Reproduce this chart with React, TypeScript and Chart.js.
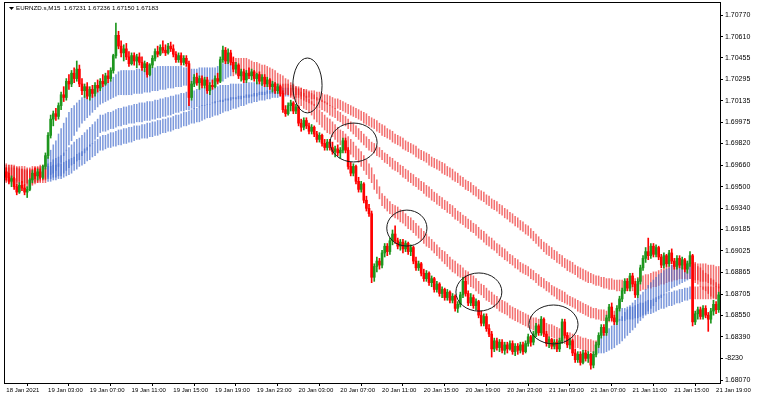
import { useEffect, useRef } from 'react';
import { Chart, registerables } from 'chart.js';

Chart.register(...registerables);

// ---- chart data ----------------------------------------------------------

const symbolCaption = 'EURNZD.s,M15  1.67231 1.67236 1.67150 1.67183';

const timeTickBars = [0, 16, 32, 48, 64, 80, 96, 112, 128, 144, 160, 176, 192, 208, 224, 240, 256, 272];
const timeTickLabels = [
  '18 Jan 2021', '19 Jan 03:00', '19 Jan 07:00', '19 Jan 11:00', '19 Jan 15:00', '19 Jan 19:00',
  '19 Jan 23:00', '20 Jan 03:00', '20 Jan 07:00', '20 Jan 11:00', '20 Jan 15:00', '20 Jan 19:00',
  '20 Jan 23:00', '21 Jan 03:00', '21 Jan 07:00', '21 Jan 11:00', '21 Jan 15:00', '21 Jan 19:00',
];

const priceTicks = [
  1.7077, 1.7061, 1.70455, 1.70295, 1.70135, 1.69975, 1.6982, 1.6966, 1.695,
  1.6934, 1.69185, 1.69025, 1.68865, 1.68705, 1.6855, 1.6839, 1.6823, 1.6807,
];
const priceTickLabels = [
  '1.70770', '1.70610', '1.70455', '1.70295', '1.70135', '1.69975', '1.69820', '1.69660', '1.69500',
  '1.69340', '1.69185', '1.69025', '1.68865', '1.68705', '1.68550', '1.68390', '-8230', '1.68070',
];
const priceMin = 1.68048;
const priceMax = 1.70859;

const opens = [
  1.6961,1.6957,1.6954,1.6956,1.6950,1.6946,1.6951,1.6949,1.6946,1.6948,1.6955,1.6960,1.6958,1.6961,1.6957,1.6965,
  1.6973,1.6988,1.7000,1.7004,1.7002,1.7010,1.7018,1.7016,1.7028,1.7026,1.7034,1.7030,1.7037,1.7026,1.7021,1.7024,
  1.7017,1.7022,1.7019,1.7025,1.7023,1.7028,1.7026,1.7032,1.7030,1.7036,1.7047,1.7062,1.7054,1.7049,1.7052,1.7046,
  1.7041,1.7047,1.7043,1.7046,1.7042,1.7038,1.7041,1.7033,1.7040,1.7045,1.7050,1.7048,1.7053,1.7051,1.7049,1.7054,
  1.7052,1.7048,1.7044,1.7047,1.7042,1.7045,1.7041,1.7016,1.7026,1.7031,1.7027,1.7030,1.7025,1.7029,1.7021,1.7025,
  1.7024,1.7030,1.7028,1.7044,1.7051,1.7043,1.7049,1.7042,1.7037,1.7040,1.7032,1.7035,1.7029,1.7034,1.7032,1.7035,
  1.7030,1.7033,1.7028,1.7031,1.7026,1.7029,1.7024,1.7026,1.7021,1.7024,1.7019,1.7007,1.7004,1.7010,1.7012,1.7006,
  1.7009,1.6997,1.6994,1.6999,1.6995,1.6991,1.6994,1.6989,1.6985,1.6988,1.6982,1.6979,1.6983,1.6979,1.6976,1.6978,
  1.6975,1.6977,1.6984,1.6977,1.6965,1.6960,1.6965,1.6954,1.6948,1.6952,1.6940,1.6934,1.6930,1.6883,1.6891,1.6895,
  1.6892,1.6901,1.6906,1.6902,1.6910,1.6915,1.6910,1.6906,1.6909,1.6904,1.6908,1.6902,1.6905,1.6895,1.6890,1.6893,
  1.6886,1.6882,1.6886,1.6879,1.6882,1.6874,1.6878,1.6871,1.6874,1.6868,1.6872,1.6866,1.6869,1.6860,1.6863,1.6870,
  1.6880,1.6871,1.6864,1.6868,1.6862,1.6865,1.6855,1.6849,1.6854,1.6845,1.6841,1.6830,1.6836,1.6831,1.6835,1.6829,
  1.6833,1.6830,1.6834,1.6828,1.6832,1.6829,1.6833,1.6828,1.6834,1.6839,1.6835,1.6841,1.6847,1.6842,1.6852,1.6841,
  1.6834,1.6837,1.6832,1.6835,1.6830,1.6836,1.6850,1.6840,1.6833,1.6836,1.6827,1.6822,1.6826,1.6820,1.6827,1.6823,
  1.6826,1.6818,1.6826,1.6833,1.6840,1.6846,1.6842,1.6853,1.6861,1.6853,1.6850,1.6860,1.6867,1.6873,1.6880,1.6875,
  1.6884,1.6878,1.6870,1.6880,1.6890,1.6897,1.6902,1.6899,1.6906,1.6900,1.6905,1.6898,1.6892,1.6899,1.6893,1.6901,
  1.6895,1.6891,1.6897,1.6892,1.6896,1.6889,1.6893,1.6899,1.6850,1.6856,1.6859,1.6854,1.6860,1.6855,1.6852,1.6858,
  1.6863,1.6859,
];

const highs = [
  1.6964,1.6960,1.6958,1.6957,1.6952,1.6953,1.6954,1.6952,1.6950,1.6956,1.6962,1.6964,1.6963,1.6963,1.6966,1.6975,
  1.6990,1.7003,1.7006,1.7008,1.7012,1.7020,1.7024,1.7030,1.7033,1.7036,1.7038,1.7043,1.7040,1.7030,1.7026,1.7027,
  1.7024,1.7025,1.7027,1.7029,1.7030,1.7033,1.7034,1.7036,1.7038,1.7048,1.7071,1.7065,1.7058,1.7055,1.7056,1.7050,
  1.7049,1.7049,1.7048,1.7049,1.7046,1.7043,1.7042,1.7041,1.7047,1.7052,1.7054,1.7055,1.7058,1.7055,1.7056,1.7057,
  1.7055,1.7050,1.7049,1.7049,1.7047,1.7047,1.7043,1.7028,1.7033,1.7034,1.7032,1.7032,1.7031,1.7031,1.7027,1.7029,
  1.7032,1.7034,1.7046,1.7054,1.7053,1.7052,1.7051,1.7046,1.7042,1.7041,1.7037,1.7037,1.7036,1.7038,1.7037,1.7036,
  1.7034,1.7035,1.7033,1.7033,1.7031,1.7030,1.7028,1.7027,1.7026,1.7025,1.7021,1.7010,1.7012,1.7014,1.7013,1.7011,
  1.7010,1.7000,1.7001,1.7001,1.6997,1.6996,1.6995,1.6991,1.6990,1.6989,1.6985,1.6985,1.6985,1.6983,1.6980,1.6981,
  1.6979,1.6986,1.6986,1.6979,1.6968,1.6967,1.6966,1.6957,1.6954,1.6953,1.6943,1.6937,1.6932,1.6893,1.6898,1.6897,
  1.6903,1.6908,1.6908,1.6912,1.6918,1.6921,1.6912,1.6911,1.6911,1.6910,1.6909,1.6907,1.6906,1.6898,1.6895,1.6894,
  1.6889,1.6888,1.6887,1.6884,1.6883,1.6880,1.6879,1.6876,1.6875,1.6874,1.6873,1.6871,1.6870,1.6865,1.6872,1.6883,
  1.6884,1.6873,1.6871,1.6870,1.6867,1.6866,1.6858,1.6856,1.6856,1.6848,1.6843,1.6838,1.6838,1.6837,1.6837,1.6835,
  1.6835,1.6836,1.6836,1.6834,1.6834,1.6835,1.6835,1.6836,1.6841,1.6840,1.6843,1.6849,1.6848,1.6854,1.6853,1.6843,
  1.6839,1.6838,1.6837,1.6837,1.6838,1.6852,1.6852,1.6842,1.6838,1.6837,1.6830,1.6828,1.6828,1.6829,1.6829,1.6828,
  1.6827,1.6828,1.6835,1.6842,1.6848,1.6848,1.6855,1.6863,1.6864,1.6855,1.6862,1.6869,1.6875,1.6882,1.6882,1.6886,
  1.6886,1.6880,1.6882,1.6892,1.6899,1.6905,1.6912,1.6908,1.6908,1.6907,1.6906,1.6900,1.6901,1.6900,1.6903,1.6904,
  1.6897,1.6899,1.6899,1.6898,1.6897,1.6895,1.6902,1.6900,1.6858,1.6861,1.6861,1.6862,1.6862,1.6857,1.6860,1.6866,
  1.6865,1.6872,
];

const lows = [
  1.6955,1.6952,1.6950,1.6948,1.6944,1.6945,1.6947,1.6944,1.6942,1.6947,1.6953,1.6956,1.6955,1.6956,1.6956,1.6963,
  1.6971,1.6986,1.6995,1.6999,1.7000,1.7007,1.7013,1.7014,1.7022,1.7024,1.7027,1.7028,1.7024,1.7018,1.7016,1.7015,
  1.7014,1.7016,1.7017,1.7020,1.7021,1.7024,1.7025,1.7027,1.7028,1.7034,1.7045,1.7052,1.7046,1.7043,1.7044,1.7039,
  1.7040,1.7040,1.7038,1.7040,1.7036,1.7035,1.7031,1.7032,1.7038,1.7043,1.7046,1.7047,1.7049,1.7047,1.7048,1.7050,
  1.7046,1.7042,1.7042,1.7040,1.7040,1.7039,1.7010,1.7014,1.7024,1.7025,1.7022,1.7023,1.7023,1.7019,1.7018,1.7022,
  1.7023,1.7026,1.7027,1.7042,1.7041,1.7041,1.7040,1.7035,1.7034,1.7030,1.7028,1.7027,1.7027,1.7030,1.7029,1.7028,
  1.7026,1.7026,1.7025,1.7024,1.7024,1.7022,1.7020,1.7019,1.7019,1.7017,1.7005,1.7002,1.7003,1.7006,1.7004,1.7004,
  1.6995,1.6991,1.6992,1.6993,1.6989,1.6989,1.6987,1.6983,1.6983,1.6980,1.6977,1.6977,1.6977,1.6974,1.6972,1.6973,
  1.6971,1.6975,1.6975,1.6963,1.6958,1.6958,1.6952,1.6946,1.6946,1.6938,1.6932,1.6928,1.6879,1.6880,1.6887,1.6889,
  1.6890,1.6898,1.6899,1.6900,1.6907,1.6908,1.6904,1.6903,1.6901,1.6902,1.6900,1.6899,1.6893,1.6888,1.6888,1.6884,
  1.6880,1.6880,1.6877,1.6876,1.6872,1.6872,1.6869,1.6868,1.6866,1.6866,1.6864,1.6864,1.6858,1.6857,1.6861,1.6868,
  1.6869,1.6862,1.6862,1.6860,1.6859,1.6853,1.6847,1.6847,1.6843,1.6839,1.6824,1.6828,1.6829,1.6828,1.6827,1.6826,
  1.6827,1.6829,1.6826,1.6825,1.6826,1.6827,1.6826,1.6827,1.6832,1.6832,1.6833,1.6839,1.6840,1.6840,1.6839,1.6832,
  1.6831,1.6830,1.6830,1.6828,1.6828,1.6834,1.6838,1.6831,1.6830,1.6825,1.6820,1.6820,1.6818,1.6819,1.6821,1.6820,
  1.6815,1.6816,1.6824,1.6831,1.6838,1.6840,1.6840,1.6851,1.6851,1.6848,1.6848,1.6858,1.6865,1.6871,1.6873,1.6873,
  1.6876,1.6868,1.6868,1.6878,1.6888,1.6894,1.6896,1.6897,1.6898,1.6898,1.6896,1.6890,1.6890,1.6891,1.6891,1.6893,
  1.6889,1.6889,1.6890,1.6889,1.6887,1.6886,1.6891,1.6847,1.6848,1.6852,1.6852,1.6852,1.6853,1.6843,1.6849,1.6855,
  1.6856,1.6857,
];

const closes = [
  1.6957,1.6954,1.6956,1.6950,1.6946,1.6951,1.6949,1.6946,1.6948,1.6955,1.6960,1.6958,1.6961,1.6957,1.6965,1.6973,
  1.6988,1.7000,1.7004,1.7002,1.7010,1.7018,1.7016,1.7028,1.7026,1.7034,1.7030,1.7037,1.7026,1.7021,1.7024,1.7017,
  1.7022,1.7019,1.7025,1.7023,1.7028,1.7026,1.7032,1.7030,1.7036,1.7047,1.7062,1.7054,1.7049,1.7052,1.7046,1.7041,
  1.7047,1.7043,1.7046,1.7042,1.7038,1.7041,1.7033,1.7040,1.7045,1.7050,1.7048,1.7053,1.7051,1.7049,1.7054,1.7052,
  1.7048,1.7044,1.7047,1.7042,1.7045,1.7041,1.7016,1.7026,1.7031,1.7027,1.7030,1.7025,1.7029,1.7021,1.7025,1.7024,
  1.7030,1.7028,1.7044,1.7051,1.7043,1.7049,1.7042,1.7037,1.7040,1.7032,1.7035,1.7029,1.7034,1.7032,1.7035,1.7030,
  1.7033,1.7028,1.7031,1.7026,1.7029,1.7024,1.7026,1.7021,1.7024,1.7019,1.7007,1.7004,1.7010,1.7012,1.7006,1.7009,
  1.6997,1.6994,1.6999,1.6995,1.6991,1.6994,1.6989,1.6985,1.6988,1.6982,1.6979,1.6983,1.6979,1.6976,1.6978,1.6975,
  1.6977,1.6984,1.6977,1.6965,1.6960,1.6965,1.6954,1.6948,1.6952,1.6940,1.6934,1.6930,1.6883,1.6891,1.6895,1.6892,
  1.6901,1.6906,1.6902,1.6910,1.6915,1.6910,1.6906,1.6909,1.6904,1.6908,1.6902,1.6905,1.6895,1.6890,1.6893,1.6886,
  1.6882,1.6886,1.6879,1.6882,1.6874,1.6878,1.6871,1.6874,1.6868,1.6872,1.6866,1.6869,1.6860,1.6863,1.6870,1.6880,
  1.6871,1.6864,1.6868,1.6862,1.6865,1.6855,1.6849,1.6854,1.6845,1.6841,1.6830,1.6836,1.6831,1.6835,1.6829,1.6833,
  1.6830,1.6834,1.6828,1.6832,1.6829,1.6833,1.6828,1.6834,1.6839,1.6835,1.6841,1.6847,1.6842,1.6852,1.6841,1.6834,
  1.6837,1.6832,1.6835,1.6830,1.6836,1.6850,1.6840,1.6833,1.6836,1.6827,1.6822,1.6826,1.6820,1.6827,1.6823,1.6826,
  1.6818,1.6826,1.6833,1.6840,1.6846,1.6842,1.6853,1.6861,1.6853,1.6850,1.6860,1.6867,1.6873,1.6880,1.6875,1.6884,
  1.6878,1.6870,1.6880,1.6890,1.6897,1.6902,1.6899,1.6906,1.6900,1.6905,1.6898,1.6892,1.6899,1.6893,1.6901,1.6895,
  1.6891,1.6897,1.6892,1.6896,1.6889,1.6893,1.6899,1.6850,1.6856,1.6859,1.6854,1.6860,1.6855,1.6852,1.6858,1.6863,
  1.6859,1.6870,
];

// Fast ribbon: upper and lower edge per bar
const fastUpper = [
  1.6967,1.6966,1.6966,1.6965,1.6964,1.6964,1.6963,1.6962,1.6962,1.6962,1.6963,1.6964,1.6964,1.6965,1.6965,1.6966,
  1.6972,1.6977,1.6981,1.6984,1.6989,1.6993,1.6997,1.7001,1.7005,1.7008,1.7010,1.7012,1.7014,1.7016,1.7017,1.7018,
  1.7020,1.7021,1.7022,1.7023,1.7024,1.7025,1.7026,1.7027,1.7029,1.7031,1.7033,1.7035,1.7036,1.7036,1.7036,1.7036,
  1.7036,1.7036,1.7037,1.7037,1.7037,1.7037,1.7037,1.7038,1.7038,1.7038,1.7039,1.7039,1.7039,1.7039,1.7039,1.7039,
  1.7039,1.7039,1.7039,1.7039,1.7038,1.7038,1.7037,1.7037,1.7037,1.7037,1.7038,1.7038,1.7038,1.7038,1.7038,1.7038,
  1.7038,1.7039,1.7039,1.7041,1.7043,1.7044,1.7045,1.7045,1.7045,1.7045,1.7045,1.7045,1.7045,1.7044,1.7043,1.7042,
  1.7042,1.7041,1.7040,1.7040,1.7039,1.7038,1.7037,1.7036,1.7034,1.7033,1.7032,1.7030,1.7029,1.7027,1.7026,1.7024,
  1.7022,1.7020,1.7019,1.7017,1.7015,1.7013,1.7011,1.7009,1.7007,1.7005,1.7003,1.7001,1.7000,1.6998,1.6996,1.6994,
  1.6992,1.6991,1.6989,1.6987,1.6985,1.6983,1.6980,1.6978,1.6976,1.6973,1.6970,1.6967,1.6964,1.6959,1.6955,1.6950,
  1.6945,1.6943,1.6941,1.6939,1.6937,1.6936,1.6935,1.6933,1.6932,1.6930,1.6928,1.6927,1.6925,1.6923,1.6921,1.6919,
  1.6917,1.6915,1.6913,1.6911,1.6909,1.6907,1.6905,1.6903,1.6902,1.6900,1.6898,1.6896,1.6895,1.6893,1.6892,1.6890,
  1.6888,1.6887,1.6885,1.6884,1.6882,1.6880,1.6878,1.6877,1.6875,1.6873,1.6872,1.6870,1.6869,1.6867,1.6866,1.6865,
  1.6864,1.6862,1.6861,1.6860,1.6859,1.6858,1.6857,1.6856,1.6855,1.6854,1.6853,1.6853,1.6852,1.6851,1.6850,1.6849,
  1.6848,1.6848,1.6847,1.6846,1.6845,1.6844,1.6843,1.6842,1.6842,1.6841,1.6840,1.6840,1.6839,1.6838,1.6838,1.6837,
  1.6837,1.6836,1.6836,1.6837,1.6839,1.6841,1.6843,1.6845,1.6847,1.6849,1.6850,1.6852,1.6854,1.6857,1.6859,1.6862,
  1.6864,1.6866,1.6868,1.6870,1.6872,1.6874,1.6877,1.6879,1.6881,1.6883,1.6885,1.6886,1.6888,1.6889,1.6890,1.6892,
  1.6893,1.6893,1.6894,1.6894,1.6895,1.6895,1.6895,1.6894,1.6893,1.6891,1.6890,1.6888,1.6886,1.6885,1.6882,1.6881,
  1.6879,1.6878,
];
const fastLower = [
  1.6953,1.6953,1.6952,1.6951,1.6950,1.6950,1.6950,1.6949,1.6949,1.6950,1.6951,1.6952,1.6953,1.6954,1.6955,1.6956,
  1.6957,1.6959,1.6960,1.6962,1.6965,1.6968,1.6973,1.6977,1.6981,1.6984,1.6988,1.6991,1.6994,1.6997,1.6999,1.7001,
  1.7003,1.7005,1.7007,1.7009,1.7011,1.7012,1.7013,1.7014,1.7015,1.7016,1.7017,1.7018,1.7018,1.7018,1.7018,1.7018,
  1.7018,1.7019,1.7019,1.7019,1.7019,1.7020,1.7020,1.7020,1.7021,1.7021,1.7021,1.7022,1.7022,1.7022,1.7023,1.7023,
  1.7023,1.7024,1.7024,1.7024,1.7025,1.7025,1.7025,1.7025,1.7026,1.7026,1.7026,1.7026,1.7026,1.7026,1.7026,1.7027,
  1.7027,1.7027,1.7027,1.7028,1.7030,1.7031,1.7032,1.7032,1.7033,1.7033,1.7033,1.7033,1.7033,1.7033,1.7032,1.7032,
  1.7031,1.7031,1.7030,1.7030,1.7029,1.7028,1.7027,1.7026,1.7024,1.7023,1.7021,1.7019,1.7018,1.7016,1.7015,1.7013,
  1.7011,1.7010,1.7008,1.7007,1.7005,1.7003,1.7000,1.6998,1.6996,1.6994,1.6992,1.6990,1.6989,1.6987,1.6985,1.6983,
  1.6981,1.6980,1.6978,1.6976,1.6974,1.6972,1.6970,1.6968,1.6965,1.6962,1.6959,1.6956,1.6953,1.6948,1.6945,1.6941,
  1.6936,1.6934,1.6932,1.6930,1.6928,1.6927,1.6926,1.6924,1.6923,1.6921,1.6919,1.6918,1.6916,1.6914,1.6912,1.6910,
  1.6908,1.6906,1.6905,1.6903,1.6901,1.6899,1.6897,1.6895,1.6893,1.6891,1.6889,1.6887,1.6886,1.6884,1.6883,1.6881,
  1.6879,1.6878,1.6876,1.6875,1.6873,1.6871,1.6870,1.6868,1.6866,1.6865,1.6863,1.6861,1.6860,1.6858,1.6857,1.6856,
  1.6855,1.6853,1.6852,1.6851,1.6850,1.6849,1.6848,1.6847,1.6846,1.6845,1.6844,1.6844,1.6843,1.6842,1.6841,1.6840,
  1.6839,1.6839,1.6838,1.6837,1.6836,1.6835,1.6834,1.6833,1.6833,1.6832,1.6831,1.6831,1.6830,1.6829,1.6829,1.6828,
  1.6828,1.6827,1.6827,1.6827,1.6827,1.6827,1.6828,1.6829,1.6830,1.6831,1.6833,1.6834,1.6836,1.6838,1.6840,1.6842,
  1.6844,1.6846,1.6849,1.6851,1.6853,1.6856,1.6858,1.6860,1.6862,1.6865,1.6867,1.6868,1.6870,1.6872,1.6873,1.6875,
  1.6876,1.6877,1.6878,1.6879,1.6880,1.6881,1.6882,1.6880,1.6879,1.6878,1.6876,1.6874,1.6873,1.6871,1.6869,1.6868,
  1.6867,1.6866,
];

// Medium ribbon
const midUpper = [
  1.6966,1.6966,1.6966,1.6966,1.6965,1.6965,1.6965,1.6965,1.6964,1.6964,1.6965,1.6965,1.6965,1.6966,1.6966,1.6966,
  1.6967,1.6968,1.6970,1.6971,1.6972,1.6973,1.6975,1.6977,1.6979,1.6981,1.6983,1.6985,1.6986,1.6988,1.6990,1.6992,
  1.6994,1.6996,1.6998,1.7000,1.7003,1.7003,1.7004,1.7005,1.7005,1.7006,1.7007,1.7008,1.7008,1.7009,1.7009,1.7010,
  1.7010,1.7011,1.7011,1.7012,1.7012,1.7012,1.7013,1.7013,1.7013,1.7014,1.7014,1.7015,1.7015,1.7016,1.7016,1.7017,
  1.7017,1.7018,1.7018,1.7019,1.7019,1.7020,1.7020,1.7021,1.7021,1.7022,1.7022,1.7023,1.7023,1.7023,1.7024,1.7024,
  1.7024,1.7024,1.7025,1.7025,1.7025,1.7025,1.7026,1.7026,1.7026,1.7026,1.7026,1.7027,1.7027,1.7027,1.7027,1.7027,
  1.7027,1.7027,1.7027,1.7027,1.7027,1.7027,1.7027,1.7027,1.7026,1.7026,1.7026,1.7026,1.7026,1.7025,1.7025,1.7024,
  1.7024,1.7023,1.7022,1.7021,1.7020,1.7019,1.7018,1.7016,1.7015,1.7014,1.7013,1.7012,1.7010,1.7009,1.7008,1.7006,
  1.7005,1.7003,1.7002,1.7000,1.6998,1.6997,1.6995,1.6993,1.6991,1.6989,1.6987,1.6985,1.6983,1.6982,1.6980,1.6979,
  1.6977,1.6975,1.6974,1.6972,1.6971,1.6969,1.6968,1.6966,1.6965,1.6963,1.6962,1.6960,1.6959,1.6957,1.6956,1.6954,
  1.6953,1.6951,1.6950,1.6948,1.6946,1.6945,1.6943,1.6942,1.6940,1.6939,1.6937,1.6936,1.6934,1.6932,1.6931,1.6929,
  1.6928,1.6926,1.6925,1.6923,1.6922,1.6920,1.6918,1.6917,1.6915,1.6913,1.6912,1.6910,1.6908,1.6907,1.6905,1.6904,
  1.6902,1.6900,1.6899,1.6897,1.6896,1.6894,1.6893,1.6892,1.6891,1.6889,1.6888,1.6886,1.6885,1.6883,1.6882,1.6880,
  1.6879,1.6877,1.6876,1.6875,1.6874,1.6873,1.6872,1.6870,1.6869,1.6868,1.6867,1.6866,1.6865,1.6864,1.6863,1.6862,
  1.6861,1.6860,1.6860,1.6859,1.6859,1.6859,1.6858,1.6858,1.6858,1.6858,1.6859,1.6859,1.6860,1.6860,1.6861,1.6861,
  1.6861,1.6862,1.6863,1.6864,1.6864,1.6865,1.6866,1.6866,1.6867,1.6868,1.6869,1.6870,1.6870,1.6871,1.6872,1.6872,
  1.6873,1.6873,1.6874,1.6874,1.6875,1.6875,1.6876,1.6876,1.6876,1.6876,1.6876,1.6876,1.6876,1.6876,1.6876,1.6876,
  1.6876,1.6876,
];
const midLower = [
  1.6955,1.6955,1.6955,1.6954,1.6954,1.6954,1.6953,1.6953,1.6953,1.6953,1.6954,1.6954,1.6954,1.6955,1.6955,1.6955,
  1.6956,1.6956,1.6957,1.6957,1.6958,1.6958,1.6960,1.6962,1.6964,1.6966,1.6967,1.6969,1.6970,1.6973,1.6975,1.6977,
  1.6980,1.6982,1.6985,1.6987,1.6990,1.6991,1.6991,1.6992,1.6993,1.6993,1.6994,1.6995,1.6995,1.6996,1.6996,1.6997,
  1.6997,1.6997,1.6998,1.6998,1.6998,1.6999,1.6999,1.6999,1.7000,1.7000,1.7001,1.7001,1.7002,1.7002,1.7003,1.7003,
  1.7004,1.7005,1.7005,1.7006,1.7006,1.7007,1.7007,1.7008,1.7008,1.7009,1.7009,1.7010,1.7010,1.7011,1.7011,1.7012,
  1.7012,1.7013,1.7013,1.7013,1.7014,1.7014,1.7014,1.7015,1.7015,1.7015,1.7015,1.7016,1.7016,1.7016,1.7017,1.7017,
  1.7017,1.7018,1.7018,1.7018,1.7019,1.7019,1.7019,1.7019,1.7019,1.7018,1.7018,1.7018,1.7018,1.7017,1.7017,1.7016,
  1.7016,1.7015,1.7014,1.7013,1.7012,1.7011,1.7010,1.7009,1.7008,1.7007,1.7006,1.7005,1.7003,1.7002,1.7001,1.6999,
  1.6998,1.6996,1.6995,1.6993,1.6991,1.6989,1.6987,1.6985,1.6983,1.6981,1.6979,1.6977,1.6976,1.6975,1.6973,1.6972,
  1.6970,1.6968,1.6967,1.6965,1.6963,1.6962,1.6961,1.6959,1.6957,1.6956,1.6954,1.6953,1.6951,1.6950,1.6948,1.6947,
  1.6945,1.6943,1.6942,1.6940,1.6939,1.6937,1.6936,1.6934,1.6933,1.6931,1.6930,1.6928,1.6926,1.6925,1.6923,1.6922,
  1.6920,1.6919,1.6917,1.6916,1.6914,1.6912,1.6911,1.6909,1.6907,1.6906,1.6904,1.6903,1.6901,1.6899,1.6898,1.6896,
  1.6895,1.6893,1.6892,1.6890,1.6889,1.6887,1.6886,1.6885,1.6884,1.6882,1.6881,1.6879,1.6877,1.6876,1.6875,1.6873,
  1.6872,1.6870,1.6869,1.6867,1.6866,1.6865,1.6864,1.6863,1.6862,1.6861,1.6860,1.6858,1.6857,1.6856,1.6855,1.6854,
  1.6853,1.6853,1.6852,1.6852,1.6851,1.6851,1.6850,1.6850,1.6850,1.6850,1.6850,1.6851,1.6851,1.6851,1.6852,1.6852,
  1.6852,1.6853,1.6853,1.6854,1.6855,1.6855,1.6856,1.6856,1.6857,1.6858,1.6859,1.6860,1.6860,1.6861,1.6862,1.6862,
  1.6863,1.6864,1.6864,1.6865,1.6866,1.6866,1.6867,1.6867,1.6867,1.6867,1.6867,1.6867,1.6867,1.6867,1.6867,1.6867,
  1.6867,1.6867,
];

// Slow ribbon
const slowUpper = [
  1.6964,1.6964,1.6964,1.6964,1.6964,1.6963,1.6963,1.6963,1.6963,1.6963,1.6963,1.6963,1.6964,1.6964,1.6964,1.6964,
  1.6965,1.6965,1.6966,1.6966,1.6967,1.6967,1.6968,1.6969,1.6970,1.6971,1.6972,1.6974,1.6975,1.6976,1.6978,1.6979,
  1.6981,1.6982,1.6984,1.6985,1.6987,1.6988,1.6988,1.6989,1.6990,1.6990,1.6991,1.6992,1.6992,1.6993,1.6993,1.6994,
  1.6994,1.6995,1.6995,1.6995,1.6996,1.6996,1.6997,1.6997,1.6998,1.6998,1.6999,1.6999,1.7000,1.7000,1.7001,1.7001,
  1.7002,1.7003,1.7003,1.7004,1.7005,1.7005,1.7006,1.7007,1.7008,1.7008,1.7009,1.7010,1.7010,1.7011,1.7011,1.7012,
  1.7013,1.7013,1.7014,1.7014,1.7015,1.7015,1.7016,1.7016,1.7016,1.7017,1.7017,1.7017,1.7018,1.7018,1.7018,1.7019,
  1.7019,1.7020,1.7020,1.7020,1.7021,1.7021,1.7022,1.7022,1.7022,1.7023,1.7023,1.7023,1.7023,1.7023,1.7023,1.7023,
  1.7023,1.7023,1.7022,1.7022,1.7021,1.7021,1.7021,1.7020,1.7020,1.7019,1.7018,1.7018,1.7017,1.7016,1.7015,1.7015,
  1.7014,1.7013,1.7012,1.7011,1.7010,1.7009,1.7008,1.7007,1.7006,1.7005,1.7004,1.7002,1.7001,1.7000,1.6999,1.6997,
  1.6996,1.6995,1.6993,1.6992,1.6991,1.6989,1.6988,1.6987,1.6986,1.6984,1.6983,1.6982,1.6981,1.6980,1.6978,1.6977,
  1.6976,1.6975,1.6974,1.6972,1.6971,1.6970,1.6969,1.6968,1.6967,1.6965,1.6964,1.6963,1.6961,1.6960,1.6958,1.6957,
  1.6955,1.6954,1.6953,1.6951,1.6950,1.6948,1.6947,1.6946,1.6944,1.6943,1.6941,1.6940,1.6939,1.6937,1.6936,1.6934,
  1.6933,1.6931,1.6930,1.6928,1.6927,1.6925,1.6924,1.6922,1.6921,1.6919,1.6917,1.6915,1.6913,1.6911,1.6909,1.6908,
  1.6906,1.6905,1.6903,1.6902,1.6900,1.6899,1.6897,1.6896,1.6895,1.6894,1.6892,1.6891,1.6890,1.6889,1.6888,1.6887,
  1.6886,1.6885,1.6884,1.6884,1.6883,1.6883,1.6882,1.6882,1.6882,1.6881,1.6881,1.6881,1.6881,1.6881,1.6882,1.6882,
  1.6882,1.6882,1.6883,1.6883,1.6884,1.6885,1.6885,1.6886,1.6887,1.6887,1.6888,1.6889,1.6890,1.6891,1.6891,1.6892,
  1.6893,1.6893,1.6893,1.6894,1.6894,1.6894,1.6894,1.6894,1.6894,1.6893,1.6893,1.6893,1.6893,1.6892,1.6892,1.6892,
  1.6891,1.6891,
];
const slowLower = [
  1.6954,1.6954,1.6953,1.6953,1.6953,1.6953,1.6953,1.6952,1.6952,1.6952,1.6952,1.6953,1.6953,1.6953,1.6953,1.6953,
  1.6954,1.6954,1.6955,1.6955,1.6956,1.6956,1.6957,1.6958,1.6959,1.6960,1.6962,1.6963,1.6965,1.6966,1.6967,1.6969,
  1.6970,1.6972,1.6973,1.6975,1.6977,1.6977,1.6978,1.6979,1.6979,1.6980,1.6980,1.6981,1.6981,1.6982,1.6982,1.6983,
  1.6983,1.6984,1.6985,1.6985,1.6986,1.6986,1.6986,1.6987,1.6987,1.6988,1.6988,1.6989,1.6990,1.6990,1.6991,1.6991,
  1.6992,1.6993,1.6993,1.6994,1.6995,1.6995,1.6996,1.6997,1.6997,1.6998,1.6998,1.6999,1.7000,1.7001,1.7001,1.7002,
  1.7003,1.7003,1.7004,1.7005,1.7006,1.7006,1.7007,1.7008,1.7008,1.7009,1.7010,1.7010,1.7011,1.7012,1.7012,1.7013,
  1.7013,1.7014,1.7014,1.7014,1.7015,1.7015,1.7016,1.7016,1.7016,1.7017,1.7017,1.7017,1.7017,1.7018,1.7018,1.7018,
  1.7018,1.7017,1.7017,1.7016,1.7016,1.7015,1.7015,1.7014,1.7014,1.7013,1.7012,1.7011,1.7010,1.7009,1.7008,1.7008,
  1.7007,1.7006,1.7005,1.7004,1.7003,1.7002,1.7001,1.7000,1.6999,1.6997,1.6996,1.6995,1.6994,1.6993,1.6991,1.6990,
  1.6988,1.6987,1.6986,1.6985,1.6983,1.6982,1.6981,1.6980,1.6978,1.6977,1.6976,1.6975,1.6974,1.6972,1.6971,1.6970,
  1.6969,1.6968,1.6966,1.6965,1.6964,1.6963,1.6962,1.6960,1.6959,1.6958,1.6957,1.6955,1.6954,1.6953,1.6951,1.6950,
  1.6948,1.6947,1.6946,1.6944,1.6943,1.6941,1.6940,1.6939,1.6937,1.6936,1.6934,1.6933,1.6932,1.6930,1.6929,1.6927,
  1.6926,1.6924,1.6923,1.6921,1.6920,1.6918,1.6917,1.6915,1.6914,1.6912,1.6910,1.6908,1.6906,1.6904,1.6902,1.6900,
  1.6899,1.6897,1.6896,1.6894,1.6893,1.6891,1.6890,1.6888,1.6887,1.6886,1.6885,1.6883,1.6882,1.6881,1.6880,1.6879,
  1.6879,1.6878,1.6877,1.6877,1.6876,1.6875,1.6875,1.6874,1.6874,1.6874,1.6873,1.6873,1.6873,1.6873,1.6873,1.6873,
  1.6873,1.6873,1.6873,1.6873,1.6874,1.6874,1.6875,1.6875,1.6876,1.6876,1.6877,1.6878,1.6878,1.6879,1.6880,1.6880,
  1.6881,1.6881,1.6882,1.6882,1.6882,1.6882,1.6882,1.6881,1.6881,1.6881,1.6880,1.6880,1.6880,1.6879,1.6878,1.6877,
  1.6876,1.6875,
];

// Bar ranges (inclusive) where each ribbon is rising
const fastRising = [[16, 86], [227, 262]];
const midRising = [[16, 104], [234, 262]];
const slowRising = [[16, 108]];

// Hand-drawn retest ovals: centre bar / price and half extents
const retestOvals = [
  { bar: 115.4, price: 1.70249, halfBars: 5.6, halfPrice: 0.00203 },
  { bar: 133.1, price: 1.69827, halfBars: 9.0, halfPrice: 0.00144 },
  { bar: 153.5, price: 1.69194, halfBars: 7.7, halfPrice: 0.00133 },
  { bar: 181.1, price: 1.68721, halfBars: 8.8, halfPrice: 0.00141 },
  { bar: 209.7, price: 1.68481, halfBars: 9.4, halfPrice: 0.00144 },
];

// ---- styling ---------------------------------------------------------------

const FONT = 'Liberation Sans';
const BULL = '#1e961e';
const BEAR = '#ff0000';
const RIBBON_UP = 'rgba(70, 110, 205, 0.7)';
const RIBBON_DOWN = 'rgba(235, 25, 25, 0.62)';

const inRanges = (i: number, ranges: number[][]) => ranges.some(([a, b]) => i >= a && i <= b);

function ribbon(upper: number[], lower: number[], rising: number[][], order: number) {
  return {
    type: 'bar' as const,
    data: upper.map((u, i) => ({ x: i, y: [lower[i], u] })),
    backgroundColor: upper.map((_, i) => (inRanges(i, rising) ? RIBBON_UP : RIBBON_DOWN)),
    barThickness: 0.9,
    grouped: false,
    order,
  };
}

const framePlugin = {
  id: 'frame',
  afterDraw(chart: any) {
    const { ctx, chartArea } = chart;
    const { left, top, right, bottom } = chartArea;
    ctx.save();
    ctx.strokeStyle = '#000';
    ctx.lineWidth = 1;
    ctx.strokeRect(Math.round(left) - 0.5, Math.round(top) - 0.5, Math.round(right - left) + 1, Math.round(bottom - top) + 1);
    ctx.fillStyle = '#000';
    ctx.font = `6.2px "${FONT}"`;
    ctx.textBaseline = 'middle';
    ctx.textAlign = 'left';
    // collapse arrow in front of the caption
    const ax = left + 4;
    const ay = top + 5.5;
    ctx.beginPath();
    ctx.moveTo(ax, ay - 1.5);
    ctx.lineTo(ax + 5, ay - 1.5);
    ctx.lineTo(ax + 2.5, ay + 1.5);
    ctx.closePath();
    ctx.fill();
    ctx.fillText(symbolCaption, left + 11, top + 5.5);
    ctx.restore();
  },
};

const ovalPlugin = {
  id: 'retestOvals',
  afterDatasetsDraw(chart: any) {
    const { ctx } = chart;
    const xs = chart.scales.x;
    const ys = chart.scales.y;
    ctx.save();
    ctx.strokeStyle = '#1a1a1a';
    ctx.lineWidth = 1;
    retestOvals.forEach((o) => {
      const cx = xs.getPixelForValue(o.bar);
      const cy = ys.getPixelForValue(o.price);
      const rx = Math.abs(xs.getPixelForValue(o.bar + o.halfBars) - cx);
      const ry = Math.abs(ys.getPixelForValue(o.price + o.halfPrice) - cy);
      ctx.beginPath();
      ctx.ellipse(cx, cy, rx, ry, 0, 0, Math.PI * 2);
      ctx.stroke();
    });
    ctx.restore();
  },
};

export default function App() {
  const canvasRef = useRef<HTMLCanvasElement | null>(null);

  useEffect(() => {
    if (!canvasRef.current) return;
    const candleColors = closes.map((c, i) => (c >= opens[i] ? BULL : BEAR));

    const chart = new Chart(canvasRef.current, {
      type: 'bar',
      data: {
        datasets: [
          ribbon(slowUpper, slowLower, slowRising, 5),
          ribbon(midUpper, midLower, midRising, 4),
          ribbon(fastUpper, fastLower, fastRising, 3),
          {
            type: 'bar',
            data: highs.map((h, i) => ({ x: i, y: [lows[i], h] })),
            backgroundColor: candleColors,
            barThickness: 1,
            grouped: false,
            order: 2,
          },
          {
            type: 'bar',
            data: opens.map((o, i) => ({ x: i, y: [o, closes[i]] })),
            backgroundColor: candleColors,
            barThickness: 2,
            grouped: false,
            order: 1,
          },
        ] as any,
      },
      options: {
        animation: false,
        responsive: false,
        devicePixelRatio: 1,
        events: [],
        layout: { padding: { left: 5, top: 3, right: 0, bottom: 0 } },
        plugins: { legend: { display: false }, tooltip: { enabled: false } },
        scales: {
          x: {
            type: 'linear',
            min: -0.5,
            max: opens.length - 0.5,
            offset: false,
            grid: { display: true, drawOnChartArea: false, drawTicks: true, tickLength: 3, color: '#000' },
            border: { display: false },
            afterBuildTicks: (axis: any) => {
              axis.ticks = timeTickBars.map((v) => ({ value: v }));
            },
            afterFit: (axis: any) => {
              axis.height = 17;
              axis.paddingLeft = 0;
              axis.paddingRight = 0;
            },
            ticks: {
              autoSkip: false,
              maxRotation: 0,
              align: 'start',
              padding: 1,
              color: '#000',
              font: { family: FONT, size: 6 },
              callback: (v: any) => timeTickLabels[timeTickBars.indexOf(v)] ?? '',
            },
          },
          y: {
            type: 'linear',
            position: 'right',
            min: priceMin,
            max: priceMax,
            grid: { display: true, drawOnChartArea: false, drawTicks: true, tickLength: 3, color: '#000' },
            border: { display: false },
            afterBuildTicks: (axis: any) => {
              axis.ticks = priceTicks.map((v) => ({ value: v }));
            },
            afterFit: (axis: any) => {
              axis.width = 37;
              axis.paddingTop = 0;
              axis.paddingBottom = 0;
            },
            ticks: {
              autoSkip: false,
              padding: 2,
              color: '#000',
              font: { family: FONT, size: 7 },
              callback: (_v: any, i: number) => priceTickLabels[i] ?? '',
            },
          },
        },
      } as any,
      plugins: [ovalPlugin, framePlugin],
    });

    return () => chart.destroy();
  }, []);

  return (
    <div style={{ position: 'absolute', left: 0, top: 0, width: 757, height: 400, background: '#fff' }}>
      <canvas ref={canvasRef} width={757} height={400} style={{ display: 'block' }} />
    </div>
  );
}
